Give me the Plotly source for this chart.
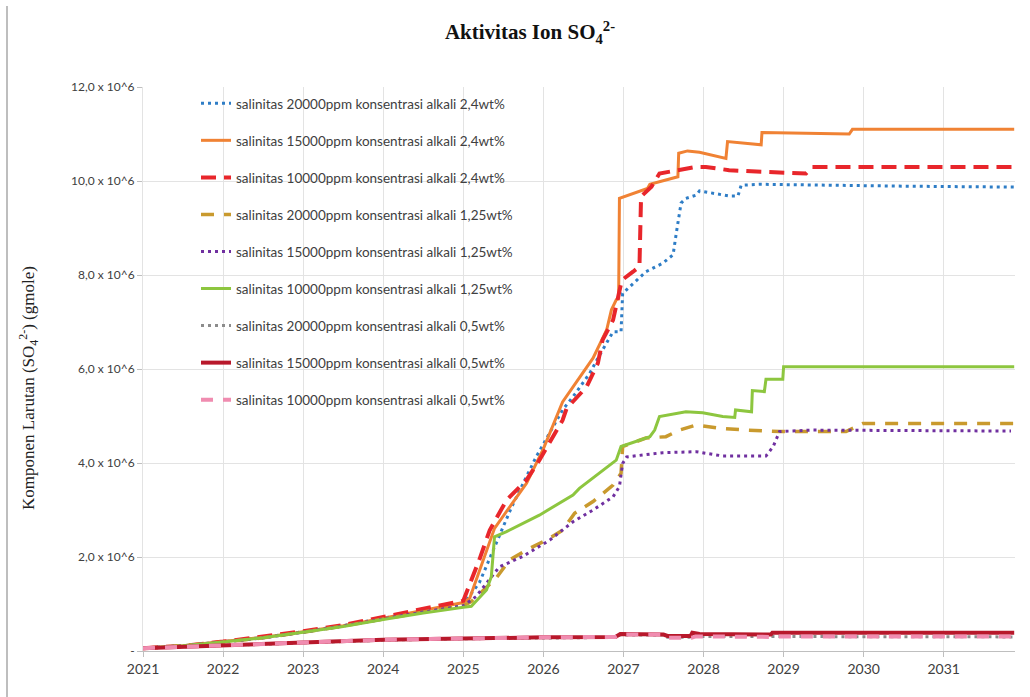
import plotly.graph_objects as go

# Time axis in decimal years, values in 10^6 gmole
years_blue = [2021, 2021.5, 2022, 2022.5, 2023, 2023.5, 2024, 2024.5, 2025.0, 2025.2, 2025.4, 2025.6, 2025.8,
              2025.91, 2026.24, 2026.37, 2026.58, 2026.68, 2026.87, 2026.97, 2026.99, 2027.08, 2027.28, 2027.49,
              2027.62, 2027.66, 2027.72, 2027.78, 2027.91, 2027.95, 2028.12, 2028.32, 2028.43, 2028.47, 2028.70,
              2029.5, 2030.5, 2031.88]
so4_blue = [0.06, 0.11, 0.20, 0.29, 0.41, 0.54, 0.70, 0.85, 1.00, 1.45, 2.25, 3.05, 3.75,
            4.13, 5.13, 5.41, 5.91, 6.23, 6.79, 6.79, 7.61, 7.75, 8.07, 8.25,
            8.43, 8.89, 9.53, 9.63, 9.70, 9.79, 9.74, 9.68, 9.68, 9.91, 9.93,
            9.91, 9.89, 9.87]

years_orange = [2021, 2021.5, 2022, 2022.5, 2023, 2023.5, 2024, 2024.5, 2025.0, 2025.08, 2025.39, 2025.79, 2026.0,
                2026.24, 2026.49, 2026.62, 2026.79, 2026.85, 2026.91, 2026.94, 2026.95, 2027.30, 2027.33, 2027.45,
                2027.68, 2027.69, 2027.80, 2027.95, 2028.28, 2028.30, 2028.72, 2028.73, 2029.82, 2029.86, 2031.88]
so4_orange = [0.06, 0.11, 0.20, 0.29, 0.41, 0.54, 0.70, 0.86, 1.03, 1.12, 2.61, 3.57, 4.30,
              5.30, 5.91, 6.23, 6.83, 7.26, 7.47, 7.50, 9.63, 9.84, 9.93, 9.99,
              10.09, 10.59, 10.64, 10.61, 10.48, 10.84, 10.77, 11.03, 11.00, 11.10, 11.10]

years_red = [2021, 2021.5, 2022, 2022.5, 2023, 2023.5, 2024, 2024.5, 2025.0, 2025.20, 2025.33, 2025.54, 2025.79,
             2025.95, 2026.24, 2026.29, 2026.54, 2026.68, 2026.74, 2026.87, 2026.98, 2027.12, 2027.20, 2027.22,
             2027.35, 2027.45, 2027.70, 2027.91, 2028.03, 2028.32, 2028.66, 2029.28, 2029.36, 2031.88]
so4_red = [0.06, 0.11, 0.20, 0.30, 0.42, 0.55, 0.72, 0.88, 1.07, 1.94, 2.57, 3.21, 3.64,
           4.06, 4.91, 5.16, 5.62, 6.12, 6.62, 7.04, 7.89, 8.07, 8.18, 9.67,
           9.88, 10.16, 10.23, 10.30, 10.30, 10.23, 10.20, 10.16, 10.30, 10.30]

years_gold = [2021, 2021.5, 2022, 2022.5, 2023, 2023.5, 2024, 2024.5, 2025.0, 2025.1, 2025.41, 2025.58, 2025.79,
              2026.04, 2026.24, 2026.39, 2026.62, 2026.87, 2026.97, 2026.99, 2027.28, 2027.53, 2027.70, 2027.91,
              2028.20, 2028.53, 2028.95, 2029.78, 2029.99, 2031.88]
so4_gold = [0.06, 0.11, 0.19, 0.28, 0.40, 0.53, 0.68, 0.83, 0.96, 1.05, 1.55, 1.94, 2.15,
            2.36, 2.57, 2.93, 3.18, 3.53, 3.78, 4.35, 4.53, 4.56, 4.70, 4.81,
            4.74, 4.70, 4.67, 4.67, 4.84, 4.84]

years_purple = [2021, 2021.5, 2022, 2022.5, 2023, 2023.5, 2024, 2024.5, 2025.0, 2025.16, 2025.45, 2025.74, 2026.08,
                2026.37, 2026.62, 2026.87, 2026.95, 2026.99, 2027.04, 2027.49, 2027.91, 2028.03, 2028.24, 2028.78,
                2028.87, 2028.95, 2029.36, 2031.84]
so4_purple = [0.06, 0.11, 0.19, 0.28, 0.40, 0.53, 0.68, 0.83, 0.96, 1.16, 1.79, 2.01, 2.36,
              2.75, 3.00, 3.28, 3.50, 3.99, 4.13, 4.22, 4.24, 4.21, 4.15, 4.15,
              4.35, 4.67, 4.70, 4.68]

years_green = [2021, 2021.5, 2022, 2022.5, 2023, 2023.5, 2024, 2024.5, 2025.0, 2025.10, 2025.29, 2025.35, 2025.39,
               2025.54, 2025.95, 2026.37, 2026.45, 2026.74, 2026.91, 2026.97, 2027.20, 2027.33, 2027.39, 2027.45,
               2027.78, 2027.99, 2028.24, 2028.39, 2028.40, 2028.60, 2028.61, 2028.76, 2028.78, 2028.99, 2029.00,
               2031.88]
so4_green = [0.06, 0.11, 0.19, 0.28, 0.40, 0.52, 0.67, 0.81, 0.93, 0.95, 1.30, 1.58, 2.43,
             2.54, 2.89, 3.32, 3.46, 3.85, 4.06, 4.35, 4.49, 4.56, 4.70, 4.99,
             5.09, 5.07, 4.99, 4.97, 5.13, 5.09, 5.54, 5.52, 5.78, 5.78, 6.05,
             6.05]

years_gray = [2021, 2022, 2023, 2024, 2025, 2026, 2026.9, 2026.95, 2027.5, 2027.55, 2027.85, 2027.9,
              2028.85, 2028.9, 2031.88]
so4_gray = [0.06, 0.12, 0.18, 0.23, 0.26, 0.28, 0.29, 0.34, 0.34, 0.29, 0.29, 0.31,
            0.31, 0.30, 0.30]

years_darkred = [2021, 2022, 2023, 2024, 2025, 2026, 2026.9, 2026.96, 2027.5, 2027.55, 2027.84, 2027.86,
                 2027.95, 2028.84, 2028.86, 2031.88]
so4_darkred = [0.06, 0.13, 0.18, 0.24, 0.27, 0.29, 0.30, 0.36, 0.35, 0.32, 0.32, 0.39,
               0.36, 0.35, 0.39, 0.39]

years_pink = [2021, 2022, 2023, 2024, 2025, 2026, 2026.9, 2026.96, 2027.5, 2027.55, 2027.85, 2027.9,
              2028.85, 2028.9, 2031.88]
so4_pink = [0.06, 0.13, 0.18, 0.24, 0.27, 0.29, 0.30, 0.35, 0.35, 0.28, 0.28, 0.31,
            0.30, 0.31, 0.31]

series_names = [
    "salinitas 20000ppm konsentrasi alkali 2,4wt%",
    "salinitas 15000ppm konsentrasi alkali 2,4wt%",
    "salinitas 10000ppm konsentrasi alkali 2,4wt%",
    "salinitas 20000ppm konsentrasi alkali 1,25wt%",
    "salinitas 15000ppm konsentrasi alkali 1,25wt%",
    "salinitas 10000ppm konsentrasi alkali 1,25wt%",
    "salinitas 20000ppm konsentrasi alkali 0,5wt%",
    "salinitas 15000ppm konsentrasi alkali 0,5wt%",
    "salinitas 10000ppm konsentrasi alkali 0,5wt%",
]

year_ticks = list(range(2021, 2032))
y_ticks = [0, 2, 4, 6, 8, 10, 12]
y_tick_text = ["-", "2,0 x 10^6", "4,0 x 10^6", "6,0 x 10^6", "8,0 x 10^6", "10,0 x 10^6", "12,0 x 10^6"]

series = [
    (years_blue, so4_blue, "#2E7DC6", 3, "3px,4px"),
    (years_orange, so4_orange, "#F08234", 3, "solid"),
    (years_red, so4_red, "#E8262B", 4, "15px,8px"),
    (years_gold, so4_gold, "#C99A2E", 3.5, "13px,10px"),
    (years_purple, so4_purple, "#7030A0", 3, "3px,4px"),
    (years_green, so4_green, "#8DC63F", 3, "solid"),
    (years_gray, so4_gray, "#8C8C8C", 3, "3px,4px"),
    (years_darkred, so4_darkred, "#B8182B", 4, "solid"),
    (years_pink, so4_pink, "#F08CB0", 4, "12px,10px"),
]

fig = go.Figure()
for i, (xs, ys, color, width, dash) in enumerate(series):
    fig.add_trace(go.Scatter(
        x=xs, y=ys, mode="lines", name=series_names[i],
        legendgroup=f"g{i}",
        line=dict(color=color, width=width, dash=dash),
    ))

PL, PR, PT, PB = 143, 15, 87, 46
W, H = 1030, 697
plot_w = W - PL - PR
plot_h = H - PT - PB

fig.update_layout(
    width=W, height=H,
    margin=dict(l=PL, r=PR, t=PT, b=PB),
    paper_bgcolor="white", plot_bgcolor="white",
    title=dict(
        text="<b>Aktivitas Ion SO<sub>4</sub><sup>2-</sup></b>",
        font=dict(family="Liberation Serif", size=21, color="#111111"),
        x=530 / W, xref="container", xanchor="center",
        y=1 - 32 / H, yref="container", yanchor="middle",
    ),
    legend=dict(
        x=(196 - PL) / plot_w, y=(H - PB - 88) / plot_h,
        xanchor="left", yanchor="top",
        bgcolor="rgba(255,255,255,0)",
        font=dict(family="Lato", size=13.5, color="#404040"),
        tracegroupgap=16.5,
    ),
    xaxis=dict(
        range=[2021, 2031.89], tickvals=year_ticks, ticktext=[str(y) for y in year_ticks],
        showgrid=True, gridcolor="#E3E3E3", gridwidth=1,
        showline=True, linecolor="#BFBFBF", linewidth=1,
        ticks="outside", ticklen=5, tickcolor="#BFBFBF",
        tickfont=dict(family="Lato", size=14, color="#404040"),
        zeroline=False,
    ),
    yaxis=dict(
        range=[0, 12], tickvals=y_ticks, ticktext=y_tick_text,
        showgrid=True, gridcolor="#E3E3E3", gridwidth=1,
        showline=True, linecolor="#E3E3E3", linewidth=1,
        ticks="outside", ticklen=5, tickcolor="#BFBFBF",
        tickfont=dict(family="Lato", size=12, color="#404040"),
        zeroline=False,
    ),
    showlegend=True,
)

fig.add_annotation(
    text="Komponen Larutan (SO<sub>4</sub><sup>2-</sup>) (gmole)",
    xref="paper", yref="paper",
    x=(28 - PL) / plot_w, y=(H - PB - 388) / plot_h,
    textangle=-90, showarrow=False, xanchor="center", yanchor="middle",
    font=dict(family="Liberation Serif", size=17, color="#222222"),
)

# frame line on the left edge of the page
fig.add_shape(
    type="line", xref="paper", yref="paper",
    x0=(7 - PL) / plot_w, x1=(7 - PL) / plot_w,
    y0=(H - PB - 6) / plot_h, y1=(H - PB - H) / plot_h,
    line=dict(color="#A8A8A8", width=1.5),
)

fig.write_html("out.html")
